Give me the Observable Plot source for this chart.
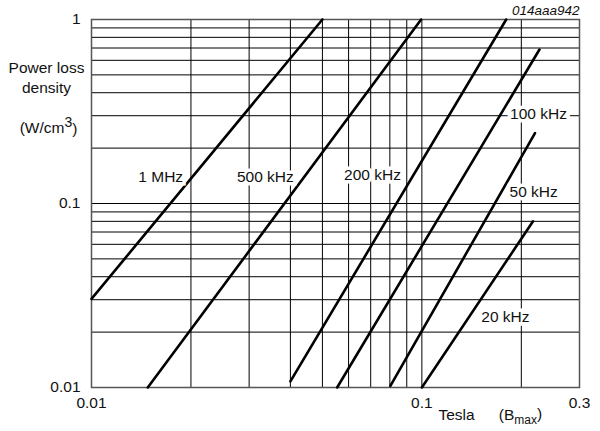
<!DOCTYPE html>
<html>
<head>
<meta charset="utf-8">
<script src="https://cdn.jsdelivr.net/npm/d3@7"></script>
<script src="https://cdn.jsdelivr.net/npm/@observablehq/plot@0.6"></script>
<style>
  html, body { margin: 0; padding: 0; background: #fff; }
  svg { font-family: "Liberation Sans", Arial, Helvetica, sans-serif; }
</style>
</head>
<body>
<div id="chart"></div>
<script>
// Series: straight lines on log-log axes, given by their end points (Tesla, W/cm3)
const series = ["1 MHz", "500 kHz", "200 kHz", "100 kHz", "50 kHz", "20 kHz"];
const bStart = [0.01, 0.0148, 0.040, 0.0554, 0.0803, 0.100];
const pStart = [0.0303, 0.01, 0.0108, 0.01, 0.0102, 0.01];
const bEnd = [0.0500, 0.0995, 0.180, 0.227, 0.220, 0.217];
const pEnd = [1.0, 1.0, 1.0, 0.687, 0.241, 0.080];

// Curve label positions
const labelB = [0.0162, 0.0336, 0.0709, 0.2255, 0.218, 0.179];
const labelP = [0.140, 0.140, 0.142, 0.308, 0.115, 0.0243];

// Grid and ticks
const gridX = [0.01, 0.02, 0.03, 0.04, 0.05, 0.06, 0.07, 0.08, 0.09, 0.1, 0.2, 0.3];
const gridY = [0.01, 0.02, 0.03, 0.04, 0.05, 0.06, 0.07, 0.08, 0.09, 0.1, 0.2, 0.3, 0.4, 0.5, 0.6, 0.7, 0.8, 0.9, 1];
const xTicks = [0.01, 0.1, 0.3];
const xTickLabels = ["0.01", "0.1", "0.3"];
const yTicks = [0.01, 0.1, 1];
const yTickLabels = ["0.01", "0.1", "1"];

const lines = [];
series.forEach((s, i) => {
  lines.push({series: s, b: bStart[i], p: pStart[i]});
  lines.push({series: s, b: bEnd[i], p: pEnd[i]});
});
const labels = series.map((s, i) => ({text: s, b: labelB[i], p: labelP[i]}));

const FS = 15.5;
const chart = Plot.plot({
  width: 600,
  height: 431,
  marginLeft: 91,
  marginRight: 21,
  marginTop: 19,
  marginBottom: 44,
  style: {fontFamily: '"Liberation Sans", Arial, Helvetica, sans-serif', fontSize: FS + "px", background: "#fff", color: "#000"},
  x: {type: "log", domain: [0.01, 0.3], tickSize: 0, label: null},
  y: {type: "log", domain: [0.01, 1], tickSize: 0, label: null},
  marks: [
    Plot.ruleX(gridX, {stroke: "#000", strokeWidth: 1}),
    Plot.ruleY(gridY, {stroke: "#000", strokeWidth: 1}),
    Plot.frame({stroke: "#555", strokeWidth: 1.5}),
    Plot.line(lines, {x: "b", y: "p", z: "series", stroke: "#000", strokeWidth: 2.6}),
    Plot.text(labels, {x: "b", y: "p", text: "text", fontSize: FS, fill: "#111", stroke: "#fff", strokeWidth: 7, strokeLinejoin: "miter"}),
    Plot.axisX(xTicks, {tickSize: 0, tickPadding: 9, fontSize: FS, fill: "#111", tickFormat: (d) => xTickLabels[xTicks.indexOf(d)], label: null}),
    Plot.axisY(yTicks, {tickSize: 0, tickPadding: 11, fontSize: FS, fill: "#111", tickFormat: (d) => yTickLabels[yTicks.indexOf(d)], label: null}),
    // Axis titles
    Plot.text(["Power loss"], {frameAnchor: "top-left", dx: -45, dy: 49, lineAnchor: "middle", text: d => d, fontSize: FS, fill: "#111", textAnchor: "middle"}),
    Plot.text(["density"], {frameAnchor: "top-left", dx: -45, dy: 69, lineAnchor: "middle", text: d => d, fontSize: FS, fill: "#111", textAnchor: "middle"}),
    Plot.text(["(W/cm3)"], {frameAnchor: "top-left", dx: -43, dy: 109, lineAnchor: "middle", text: d => d, fontSize: FS, fill: "#111", textAnchor: "middle", className: "unit-y"}),
    Plot.text(["Tesla"], {frameAnchor: "bottom-left", dx: 365, dy: 28, lineAnchor: "middle", text: d => d, fontSize: FS, fill: "#111", textAnchor: "middle"}),
    Plot.text(["(Bmax)"], {frameAnchor: "bottom-left", dx: 429, dy: 28, lineAnchor: "middle", text: d => d, fontSize: FS, fill: "#111", textAnchor: "middle", className: "unit-x"}),
    Plot.text(["014aaa942"], {frameAnchor: "top-right", dx: 0, dy: -9, lineAnchor: "middle", text: d => d, fontSize: 13.5, fill: "#111", textAnchor: "end", fontStyle: "italic"})
  ]
});

// Superscript / subscript rendering
d3.select(chart).selectAll("g.unit-y text").each(function() {
  const t = d3.select(this);
  t.text(null);
  t.append("tspan").text("(W/cm");
  t.append("tspan").attr("dy", "-0.45em").attr("font-size", "14px").text("3");
  t.append("tspan").attr("dy", "0.45em").text(")");
});
d3.select(chart).selectAll("g.unit-x text").each(function() {
  const t = d3.select(this);
  t.text(null);
  t.append("tspan").text("(B");
  t.append("tspan").attr("dy", "0.3em").attr("font-size", "12px").text("max");
  t.append("tspan").attr("dy", "-0.3em").text(")");
});

document.getElementById("chart").appendChild(chart);
</script>
</body>
</html>
